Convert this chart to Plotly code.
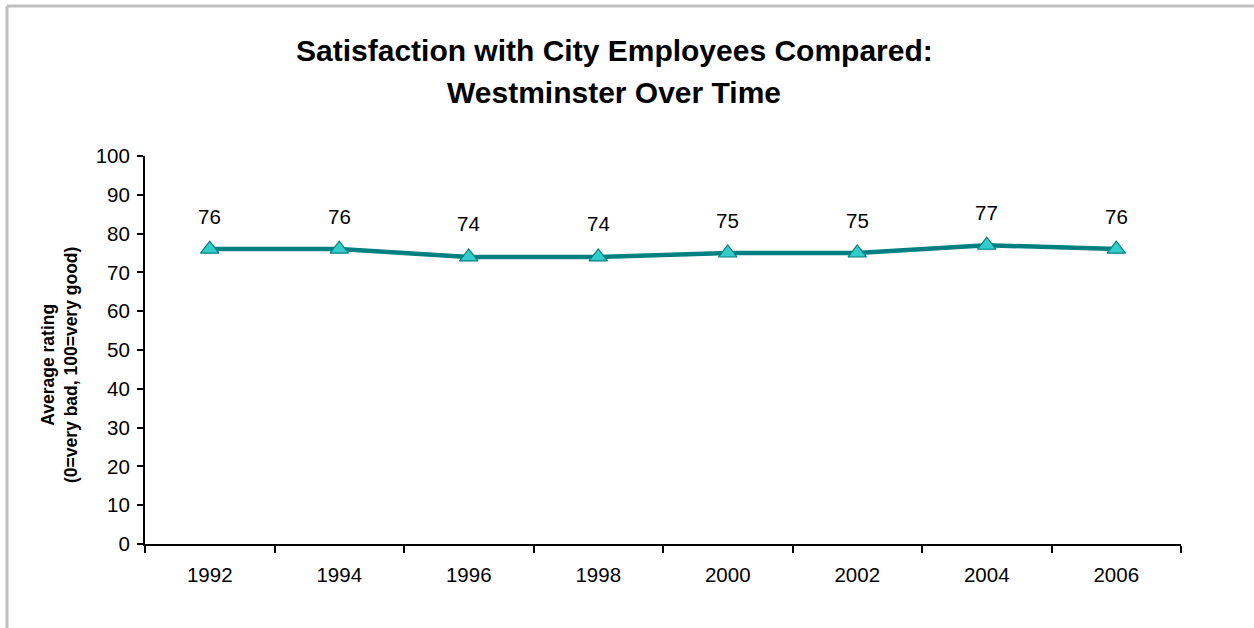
import plotly.graph_objects as go

# Survey years and average ratings (0 = very bad, 100 = very good)
years = ["1992", "1994", "1996", "1998", "2000", "2002", "2004", "2006"]
ratings = [76, 76, 74, 74, 75, 75, 77, 76]
y_ticks = [0, 10, 20, 30, 40, 50, 60, 70, 80, 90, 100]

W, H = 1254, 628
L, R, T, B = 145, 73, 156, 84
pw, ph = W - L - R, H - T - B
FONT = "Liberation Sans, Arial, sans-serif"


def px_x(x):
    return (x - L) / pw


def px_y(y):
    return (H - B - y) / ph


fig = go.Figure()
fig.add_trace(go.Scatter(
    x=years, y=ratings, mode="lines+markers",
    line=dict(color="#008080", width=4.5),
    marker=dict(symbol="triangle-up", size=16, color="#33CCCC",
                line=dict(color="#008080", width=1.2)),
    hoverinfo="x+y", showlegend=False,
))

# value labels above each point (x given as category index)
for i, v in enumerate(ratings):
    fig.add_annotation(x=i, y=v, text=str(v), showarrow=False, yshift=33,
                       font=dict(family=FONT, size=20.5, color="#000"))

title_font = dict(family=FONT, size=30, color="#000")
fig.add_annotation(xref="paper", yref="paper", x=px_x(614), y=px_y(50),
                   text="<b>Satisfaction with City Employees Compared:</b>",
                   showarrow=False, font=title_font, xanchor="center", yanchor="middle")
fig.add_annotation(xref="paper", yref="paper", x=px_x(614), y=px_y(93),
                   text="<b>Westminster Over Time</b>",
                   showarrow=False, font=title_font, xanchor="center", yanchor="middle")

# y-axis title (two lines)
fig.add_annotation(xref="paper", yref="paper", x=px_x(59), y=px_y(365),
                   text="<b>Average rating</b><br><b>(0=very bad, 100=very good)</b>",
                   showarrow=False, textangle=-90, xanchor="center", yanchor="middle",
                   font=dict(family=FONT, size=17.5, color="#000"))

# outer chart frame
frame = dict(color="#C0C0C0", width=3)
fig.add_shape(type="line", xref="paper", yref="paper",
              x0=px_x(7), x1=px_x(7), y0=px_y(6), y1=px_y(628), line=frame)
fig.add_shape(type="line", xref="paper", yref="paper",
              x0=px_x(7), x1=px_x(1254), y0=px_y(6), y1=px_y(6), line=frame)

fig.update_xaxes(
    type="category", range=[-0.5, len(years) - 0.5],
    showline=True, linecolor="#000", linewidth=2,
    ticks="outside", tickson="boundaries", ticklen=7, tickwidth=2, tickcolor="#000",
    showgrid=False, zeroline=False,
    tickfont=dict(family=FONT, size=20.5, color="#000"),
    ticklabelstandoff=11,
)
fig.update_yaxes(
    range=[0, 100], tickvals=y_ticks,
    showline=True, linecolor="#000", linewidth=2,
    ticks="outside", ticklen=6, tickwidth=2, tickcolor="#000",
    showgrid=False, zeroline=False,
    tickfont=dict(family=FONT, size=20.5, color="#000"),
    ticklabelstandoff=3,
)
fig.update_layout(
    width=W, height=H,
    margin=dict(l=L, r=R, t=T, b=B),
    paper_bgcolor="#fff", plot_bgcolor="#fff",
)
fig.write_html("out.html")
